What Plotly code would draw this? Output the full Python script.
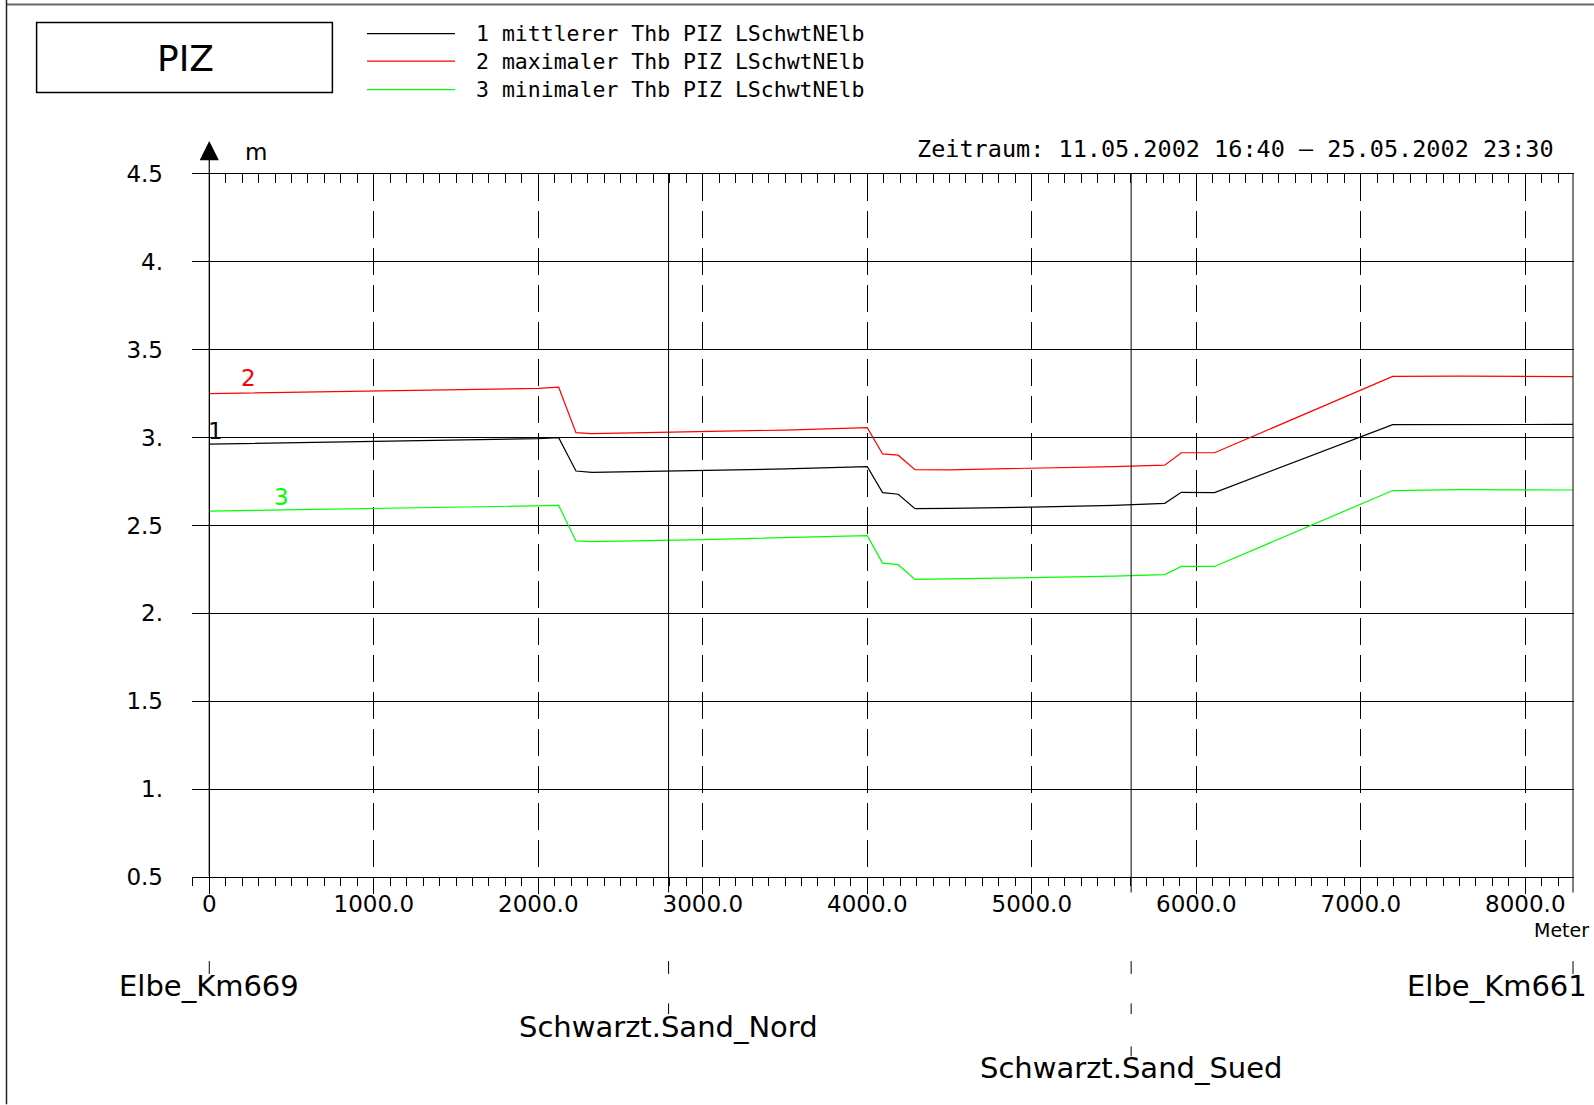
import plotly.graph_objects as go

# Station (Meter) along the Elbe section
distance = [0, 500, 1000, 1500, 2000, 2124, 2229, 2326, 3000, 3500, 4000, 4093, 4188,
            4290, 4500, 5000, 5500, 5808, 5909, 6111, 7194, 7600, 8000, 8289]

# Tidehochwasser (m)
thb_mean = [2.963, 2.970, 2.977, 2.985, 2.994, 3.000, 2.810, 2.802, 2.812, 2.822, 2.835, 2.687,
            2.678, 2.596, 2.598, 2.604, 2.615, 2.626, 2.689, 2.687, 3.074, 3.075, 3.077, 3.075]
thb_max = [3.250, 3.258, 3.265, 3.272, 3.280, 3.287, 3.028, 3.023, 3.033, 3.043, 3.057, 2.907,
           2.900, 2.818, 2.817, 2.825, 2.835, 2.843, 2.914, 2.914, 3.348, 3.350, 3.349, 3.347]
thb_min = [2.582, 2.590, 2.597, 2.603, 2.610, 2.614, 2.412, 2.408, 2.420, 2.430, 2.442, 2.286,
           2.277, 2.193, 2.195, 2.203, 2.212, 2.221, 2.267, 2.267, 2.699, 2.704, 2.703, 2.702]

series_names = ["1 mittlerer Thb PIZ LSchwtNElb",
                "2 maximaler Thb PIZ LSchwtNElb",
                "3 minimaler Thb PIZ LSchwtNElb"]
series_tags = ["1", "2", "3"]
series_colors = ["#000000", "#ff0000", "#00ff00"]

y_ticks = [0.5, 1.0, 1.5, 2.0, 2.5, 3.0, 3.5, 4.0, 4.5]
y_ticktext = ["0.5", "1.", "1.5", "2.", "2.5", "3.", "3.5", "4.", "4.5"]
x_ticks = [0, 1000, 2000, 3000, 4000, 5000, 6000, 7000, 8000]
x_ticktext = ["0", "1000.0", "2000.0", "3000.0", "4000.0", "5000.0", "6000.0", "7000.0", "8000.0"]

stations = ["Elbe_Km669", "Schwarzt.Sand_Nord", "Schwarzt.Sand_Sued", "Elbe_Km661"]
station_pos = [0, 2792, 5604, 8290]
station_row = [0, 1, 2, 0]

# where the curve numbers sit
tag_x = [38, 241, 438]
tag_y = [3.036, 3.337, 2.66]

SANS = "DejaVu Sans"
MONO = "DejaVu Sans Mono"
W, H = 1594, 1105
PL, PR, PT, PB = 192, 1574, 174, 877.5


def fx(px):
    return (px - PL) / (PR - PL)


def fy(py):
    return (PB - py) / (PB - PT)


fig = go.Figure()
for ys, name, col in zip([thb_mean, thb_max, thb_min], series_names, series_colors):
    fig.add_trace(go.Scatter(x=distance, y=ys, mode="lines", name=name,
                             line=dict(color=col, width=1.2), showlegend=False))
# keeps the top axis alive
fig.add_trace(go.Scatter(x=[0], y=[0.5], xaxis="x2", mode="none", showlegend=False, hoverinfo="skip"))

shapes = []
annots = []

# page frame (top and left)
shapes.append(dict(type="line", xref="paper", yref="paper", x0=fx(6), x1=fx(W), y0=fy(4.5), y1=fy(4.5),
                   line=dict(color="#666", width=2)))
shapes.append(dict(type="line", xref="paper", yref="paper", x0=fx(6.5), x1=fx(6.5), y0=fy(0), y1=fy(H),
                   line=dict(color="#222", width=1.5)))

# title box
shapes.append(dict(type="rect", xref="paper", yref="paper", x0=fx(36.6), x1=fx(332.4), y0=fy(22.4), y1=fy(92.5),
                   line=dict(color="#000", width=1.5)))
annots.append(dict(text="PIZ", xref="paper", yref="paper", x=fx(185), y=fy(58), showarrow=False,
                   xanchor="center", yanchor="middle", font=dict(family=SANS, size=36, color="#000")))

# hand-made legend
for i, (name, col) in enumerate(zip(series_names, series_colors)):
    ly = [33.5, 61, 89.5][i]
    shapes.append(dict(type="line", xref="paper", yref="paper", x0=fx(367), x1=fx(455), y0=fy(ly), y1=fy(ly),
                       line=dict(color=col, width=1.2)))
    annots.append(dict(text=name, xref="paper", yref="paper", x=fx(474), y=fy(ly), showarrow=False,
                       xanchor="left", yanchor="middle", font=dict(family=MONO, size=21.5, color="#000")))

for t, xv, yv, col in zip(series_tags, tag_x, tag_y, series_colors):
    annots.append(dict(text=t, x=xv, y=yv, xref="x", yref="y", showarrow=False,
                       xanchor="center", yanchor="middle", font=dict(family=SANS, size=23, color=col)))

annots.append(dict(text="Zeitraum: 11.05.2002 16:40 \u2013 25.05.2002 23:30",
                   xref="paper", yref="paper", x=fx(1556), y=fy(149.4), showarrow=False,
                   xanchor="right", yanchor="middle", font=dict(family=MONO, size=23.5, color="#000")))
annots.append(dict(text="m", xref="paper", yref="paper", x=fx(256), y=fy(152), showarrow=False,
                   xanchor="center", yanchor="middle", font=dict(family=SANS, size=23, color="#000")))
annots.append(dict(text="Meter", xref="paper", yref="paper", x=fx(1591), y=fy(931), showarrow=False,
                   xanchor="right", yanchor="middle", font=dict(family=SANS, size=19, color="#000")))

# y axis with arrow head
annots.append(dict(text="", x=0, xref="x", y=fy(141), yref="paper", showarrow=True, arrowhead=2,
                   arrowsize=3.2, arrowwidth=1.2, arrowcolor="#000", ax=0, ay=PB - 141,
                   axref="pixel", ayref="pixel", standoff=0))

# stations: vertical lines and labels below the axis
row_tick = [(961.7, 974.5), (1004, 1014.6), (1047, 1057)]
row_label = [987, 1028, 1068.5]
for name, pos, row in zip(stations, station_pos, station_row):
    if pos != 0:
        shapes.append(dict(type="line", xref="x", yref="paper", x0=pos, x1=pos, y0=fy(893), y1=1,
                           line=dict(color="#000", width=1)))
    for r in range(row + 1):
        shapes.append(dict(type="line", xref="x", yref="paper", x0=pos, x1=pos,
                           y0=fy(row_tick[r][0]), y1=fy(row_tick[r][1]), line=dict(color="#000", width=1)))
    if pos == station_pos[-1]:
        annots.append(dict(text=name, x=pos, xref="x", y=fy(row_label[row]), yref="paper", showarrow=False,
                           xanchor="right", xshift=16, yanchor="middle",
                           font=dict(family=SANS, size=29, color="#000")))
    else:
        annots.append(dict(text=name, x=pos, xref="x", y=fy(row_label[row]), yref="paper", showarrow=False,
                           xanchor="center", yanchor="middle", font=dict(family=SANS, size=29, color="#000")))

x_range = [-105, 8296]

fig.update_layout(
    width=W, height=H,
    margin=dict(l=PL, r=W - PR, t=PT, b=H - PB, autoexpand=False),
    paper_bgcolor="white", plot_bgcolor="white",
    font=dict(family=SANS, size=23, color="#000"),
    showlegend=False,
    shapes=shapes, annotations=annots,
    xaxis=dict(range=x_range, tickvals=x_ticks, ticktext=x_ticktext, ticks="outside", ticklen=16,
               tickcolor="#000", tickwidth=1, showline=True, linecolor="#000", linewidth=1,
               showgrid=True, gridcolor="#000", gridwidth=1, griddash="27px,10px",
               zeroline=True, zerolinecolor="#000", zerolinewidth=1,
               minor=dict(dtick=100, tick0=0, ticks="outside", ticklen=8, tickcolor="#000", showgrid=False),
               tickfont=dict(size=23), ticklabelstandoff=-10, automargin=False, fixedrange=True),
    xaxis2=dict(range=x_range, overlaying="x", side="top", anchor="y", showticklabels=False,
                ticks="inside", ticklen=9, tickcolor="#000", dtick=100, tick0=0,
                showline=True, linecolor="#000", linewidth=1, showgrid=False, zeroline=False,
                automargin=False),
    yaxis=dict(range=[0.5, 4.5], tickvals=y_ticks, ticktext=y_ticktext, ticks="",
               showgrid=True, gridcolor="#000", gridwidth=1, showline=False, zeroline=False,
               ticklabelstandoff=28, tickfont=dict(size=23), automargin=False),
)

fig.write_html("out.html", config={"displayModeBar": False},
               post_script="document.body.style.margin='0';document.body.style.overflow='hidden';")
